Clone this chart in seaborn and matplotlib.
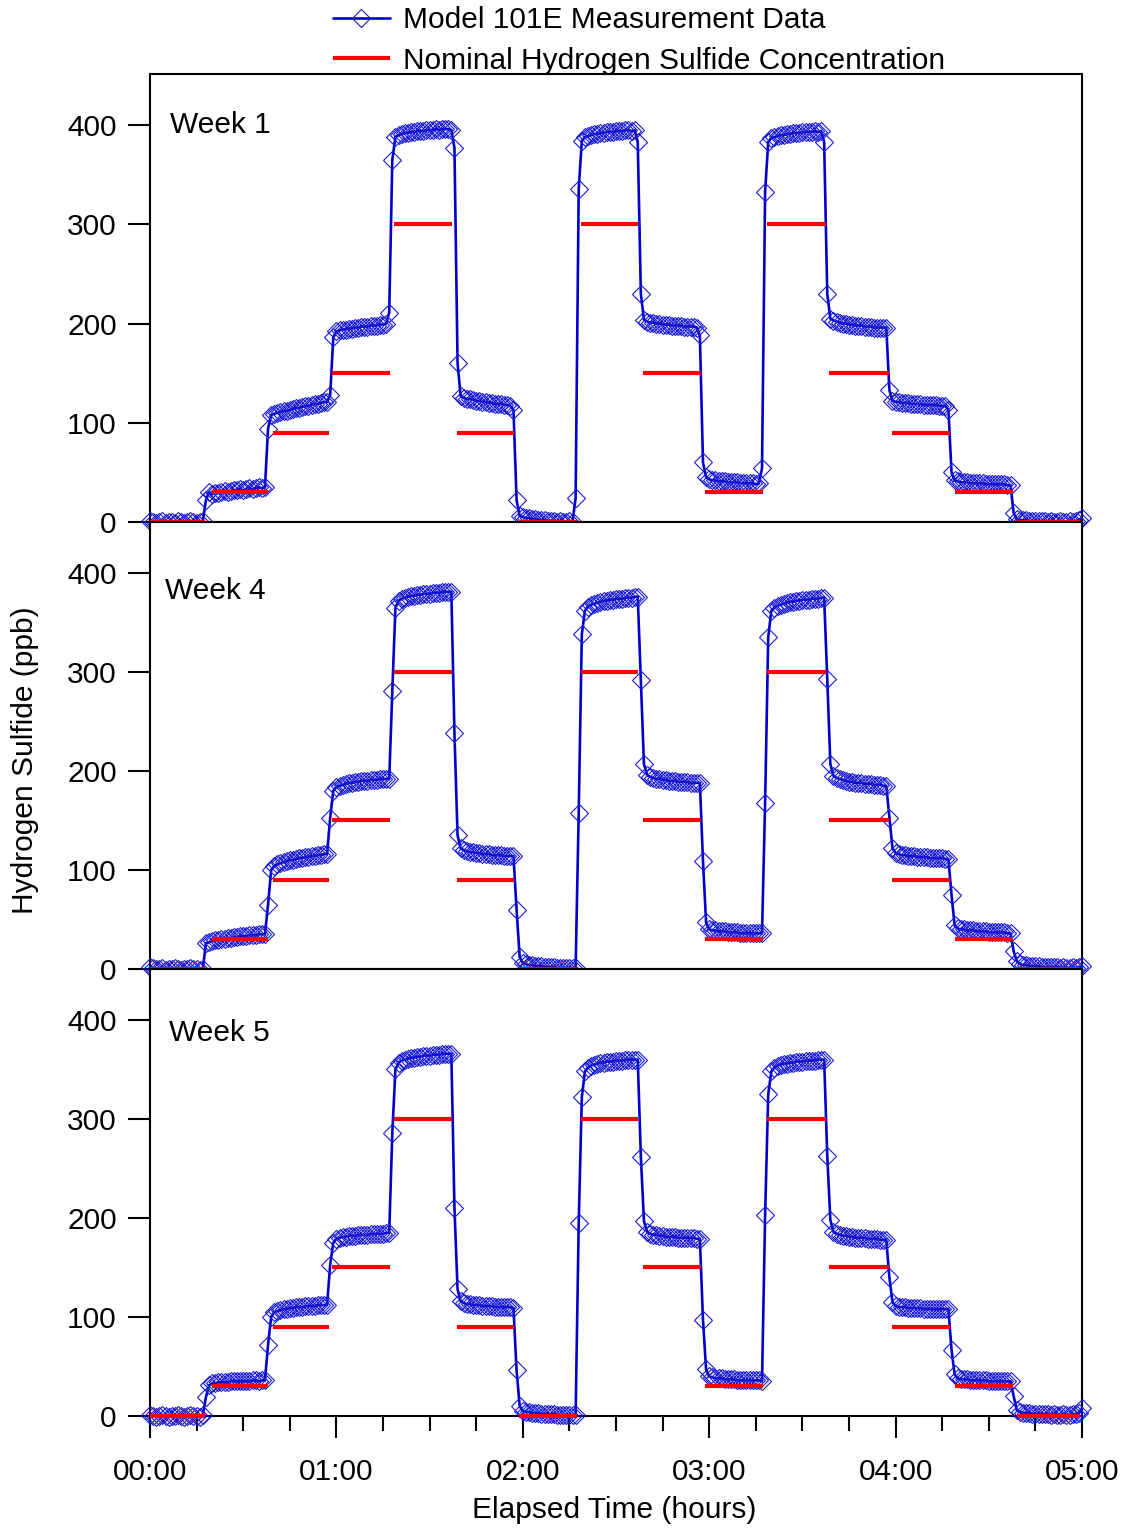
import matplotlib
matplotlib.use("Agg")
import matplotlib.pyplot as plt
from matplotlib.lines import Line2D
from matplotlib.ticker import FixedLocator
import pandas as pd
import seaborn as sns

# ---- data -------------------------------------------------------------
week_names = ["Week 1", "Week 4", "Week 5"]

# nominal H2S steps (ppb) and the time span of each step (minutes)
nominal_ppb = [0, 30, 90, 150, 300, 90, 0, 300, 150, 30, 300, 150, 90, 30, 0]
nominal_start_min = [0, 20, 39.5, 58.7, 78.7, 98.7, 118.7, 138.7, 158.7,
                     178.7, 198.7, 218.7, 238.9, 259, 279.2]
nominal_end_min = [17.7, 38, 57.5, 77.3, 97.3, 117.3, 137.4, 157.2, 177.4,
                   197.3, 217.6, 237.9, 257.5, 277.8, 299.4]

# analyzer readings, one per minute from 0 to 300 min, grouped by step
week1_ppb = [
    [1, 0, -1, 0, 1, -1, 0, 0, -1, 1, 0, -1, 0, 1, 0, -1, 0, 1],
    [22, 30, 28, 29, 29, 30, 31, 30, 31, 32, 32, 33, 32, 33, 34, 33, 34, 35, 34, 35],
    [94, 108, 109, 110, 111, 112, 112, 113, 114, 115, 115, 116, 117, 117, 118, 119, 119, 120, 121, 121],
    [128, 186, 192, 193, 194, 194, 195, 195, 196, 196, 197, 197, 197, 198, 198, 198, 199, 199, 200, 211],
    [365, 388, 390, 391, 392, 392, 393, 393, 394, 394, 394, 395, 395, 395, 396, 395, 396, 396, 396, 395],
    [377, 160, 127, 125, 124, 124, 123, 122, 122, 121, 121, 120, 120, 119, 119, 119, 118, 118, 117, 113],
    [22, 6, 5, 4, 4, 3, 3, 2, 2, 2, 1, 1, 1, 0, 1, 0, 0, 1, 0, 24],
    [336, 384, 388, 389, 390, 391, 391, 392, 392, 393, 393, 393, 394, 394, 394, 395, 395, 394, 395, 383],
    [230, 204, 202, 201, 201, 200, 200, 199, 199, 199, 198, 198, 198, 198, 197, 197, 197, 197, 196, 188],
    [60, 45, 43, 42, 42, 41, 41, 41, 40, 40, 40, 40, 39, 39, 39, 39, 39, 38, 39, 54],
    [333, 383, 387, 388, 389, 390, 390, 391, 391, 392, 392, 392, 393, 393, 393, 393, 394, 393, 394, 383],
    [230, 205, 203, 202, 201, 200, 200, 199, 199, 198, 198, 198, 197, 197, 197, 196, 196, 196, 196, 196],
    [133, 122, 121, 121, 120, 120, 120, 119, 119, 119, 119, 118, 118, 118, 118, 118, 117, 117, 117, 113],
    [50, 42, 41, 40, 40, 40, 39, 39, 39, 39, 39, 38, 38, 38, 38, 38, 38, 38, 37, 37],
    [9, 3, 2, 2, 2, 1, 1, 1, 1, 1, 1, 0, 1, 0, 0, 1, 0, 0, 1, 0, 1, 2, 4],
]
week4_ppb = [
    [2, 1, 0, 0, 1, -1, 0, 0, 1, 0, -1, 0, 0, 1, 0, 0, -1, 0],
    [26, 27, 28, 29, 29, 30, 30, 31, 31, 32, 32, 33, 33, 33, 34, 34, 34, 35, 35, 35],
    [65, 100, 104, 106, 107, 108, 109, 110, 110, 111, 112, 112, 113, 113, 114, 114, 115, 115, 116, 116],
    [153, 180, 184, 185, 186, 187, 188, 188, 189, 189, 190, 190, 190, 191, 191, 191, 192, 192, 192, 192],
    [281, 365, 372, 374, 375, 376, 377, 377, 378, 378, 379, 379, 379, 380, 380, 380, 381, 381, 381, 381],
    [238, 135, 122, 120, 119, 118, 118, 117, 117, 116, 116, 116, 115, 115, 115, 115, 114, 114, 114, 114],
    [60, 12, 6, 5, 4, 4, 3, 3, 3, 2, 2, 2, 2, 1, 1, 1, 1, 1, 1, 1],
    [158, 338, 362, 366, 368, 369, 370, 371, 372, 372, 373, 373, 374, 374, 374, 375, 375, 375, 376, 376],
    [292, 207, 196, 194, 193, 192, 192, 191, 191, 190, 190, 190, 189, 189, 189, 189, 188, 188, 188, 188],
    [109, 47, 40, 39, 39, 38, 38, 38, 37, 37, 37, 37, 36, 36, 36, 36, 36, 36, 36, 36],
    [168, 335, 362, 365, 367, 368, 369, 370, 371, 371, 372, 372, 373, 373, 373, 374, 374, 374, 375, 375],
    [293, 207, 195, 193, 192, 191, 190, 189, 189, 188, 188, 188, 187, 187, 187, 186, 186, 186, 185, 185],
    [153, 122, 117, 116, 115, 115, 114, 114, 114, 113, 113, 113, 113, 112, 112, 112, 112, 112, 111, 111],
    [75, 44, 41, 40, 40, 39, 39, 39, 38, 38, 38, 38, 37, 37, 37, 37, 37, 37, 36, 36],
    [18, 8, 5, 4, 4, 3, 3, 3, 3, 2, 2, 2, 2, 2, 2, 1, 2, 1, 1, 2, 1, 2, 3],
]
week5_ppb = [
    [1, 0, -1, 0, 1, 0, -1, 0, 0, 1, 0, -1, 0, 1, 0, 0, -1, 1],
    [19, 31, 33, 33, 34, 34, 34, 34, 35, 35, 35, 35, 35, 35, 35, 36, 36, 35, 36, 36],
    [72, 100, 105, 106, 107, 108, 108, 109, 109, 110, 110, 110, 111, 111, 111, 111, 112, 112, 112, 112],
    [153, 175, 179, 180, 181, 181, 182, 182, 182, 183, 183, 183, 183, 184, 184, 184, 184, 184, 185, 185],
    [286, 350, 357, 359, 360, 361, 362, 362, 363, 363, 364, 364, 364, 365, 365, 365, 366, 366, 366, 366],
    [210, 128, 116, 114, 113, 113, 112, 112, 112, 111, 111, 111, 111, 110, 110, 110, 110, 110, 110, 109],
    [46, 10, 5, 4, 4, 3, 3, 3, 2, 2, 2, 2, 2, 1, 1, 1, 1, 1, 1, 1],
    [195, 322, 348, 352, 354, 355, 356, 357, 357, 358, 358, 358, 359, 359, 359, 360, 360, 360, 360, 360],
    [262, 197, 186, 184, 183, 183, 182, 182, 181, 181, 181, 181, 180, 180, 180, 180, 180, 180, 179, 179],
    [97, 47, 40, 39, 38, 38, 38, 37, 37, 37, 37, 36, 36, 36, 36, 36, 36, 36, 36, 35],
    [203, 325, 348, 352, 354, 355, 356, 356, 357, 357, 358, 358, 358, 359, 359, 359, 359, 360, 360, 360],
    [263, 198, 186, 184, 183, 182, 182, 181, 181, 180, 180, 180, 180, 179, 179, 179, 179, 178, 178, 178],
    [140, 115, 111, 110, 110, 110, 109, 109, 109, 109, 109, 108, 108, 108, 108, 108, 108, 108, 108, 108],
    [67, 42, 38, 37, 37, 37, 36, 36, 36, 36, 36, 36, 35, 35, 35, 35, 35, 35, 35, 35],
    [20, 6, 4, 3, 3, 3, 2, 2, 2, 2, 2, 2, 1, 2, 1, 1, 2, 1, 1, 2, 2, 3, 8],
]
sample_minutes = list(range(301))

week_label_minute = [6.4, 4.8, 6.1]
week_label_ppb = [400, 382, 387]

time_ticks_hr = [0, 1, 2, 3, 4, 5]
time_tick_labels = ["00:00", "01:00", "02:00", "03:00", "04:00", "05:00"]
ppb_ticks = [0, 100, 200, 300, 400]

# ---- tidy tables --------------------------------------------------------
readings = []
for name, blocks in zip(week_names, [week1_ppb, week4_ppb, week5_ppb]):
    flat = [v for block in blocks for v in block]
    assert len(flat) == len(sample_minutes)
    for m, v in zip(sample_minutes, flat):
        readings.append({"week": name, "hours": m / 60.0, "ppb": v})
readings = pd.DataFrame(readings)

steps = []
for i, (lvl, a, b) in enumerate(zip(nominal_ppb, nominal_start_min, nominal_end_min)):
    steps.append({"step": i, "hours": a / 60.0, "ppb": lvl})
    steps.append({"step": i, "hours": b / 60.0, "ppb": lvl})
steps = pd.DataFrame(steps)

# ---- style --------------------------------------------------------------
sns.set_style("ticks")
plt.rcParams["font.family"] = ["Liberation Sans", "DejaVu Sans"]
plt.rcParams["axes.linewidth"] = 1.5
for key in ["text.color", "axes.labelcolor", "xtick.color", "ytick.color",
            "axes.edgecolor"]:
    plt.rcParams[key] = "black"
FS = 21.5
BLUE = "#0000CD"
EDGE = "#1a1ad6"
RED = "#FF0000"

fig = plt.figure(figsize=(11.26, 15.31), dpi=100)
W, H = 1126.0, 1531.0
left, right = 150 / W, 1082 / W
panel_px = [(74, 522), (522, 969), (969, 1416)]
axes = []
for top, bot in panel_px:
    ax = fig.add_axes([left, 1 - bot / H, right - left, (bot - top) / H])
    axes.append(ax)

for i, (ax, name) in enumerate(zip(axes, week_names)):
    sub = readings[readings["week"] == name]
    sns.lineplot(data=sub, x="hours", y="ppb", ax=ax, estimator=None, sort=False,
                 color=BLUE, linewidth=1.9, marker="D", markersize=9.5,
                 markerfacecolor="none", markeredgecolor=EDGE, markeredgewidth=0.8,
                 clip_on=False, zorder=3, legend=False)
    sns.lineplot(data=steps, x="hours", y="ppb", units="step", ax=ax, estimator=None,
                 sort=False, color=RED, linewidth=3.0, solid_capstyle="butt",
                 clip_on=False, zorder=4, legend=False)

    ax.set_xlim(0, 5)
    ax.set_ylim(0, 451.5)
    ax.set_xlabel("")
    ax.set_ylabel("")
    ax.yaxis.set_major_locator(FixedLocator(ppb_ticks))
    ax.set_yticklabels([str(t) for t in ppb_ticks])
    ax.tick_params(axis="y", direction="out", length=16, width=1.5, pad=8,
                   labelsize=FS, colors="black")
    for s in ax.spines.values():
        s.set_visible(True)
        s.set_linewidth(1.5)
        s.set_color("black")
        s.set_zorder(2)
    ax.text(week_label_minute[i] / 60.0, week_label_ppb[i], name, ha="left",
            va="center", fontsize=FS, color="black")
    if i < 2:
        ax.tick_params(axis="x", which="both", bottom=False, labelbottom=False)
    else:
        ax.set_xticks(time_ticks_hr)
        ax.set_xticklabels(time_tick_labels)
        ax.xaxis.set_minor_locator(FixedLocator([q / 4 for q in range(21)]))
        ax.tick_params(axis="x", which="major", direction="out", length=16,
                       width=1.5, pad=14, labelsize=FS, colors="black")
        ax.tick_params(axis="x", which="minor", direction="out", length=11,
                       width=1.5, colors="black")

fig.text(25 / W, 1 - 760 / H, "Hydrogen Sulfide (ppb)", rotation=90,
         ha="center", va="center", fontsize=FS, color="black")
fig.text(614 / W, 1 - 1510 / H, "Elapsed Time (hours)", ha="center",
         va="center", fontsize=FS, color="black")

handles = [
    Line2D([], [], color=BLUE, linewidth=1.9, marker="D", markersize=9.5,
           markerfacecolor="none", markeredgecolor=EDGE, markeredgewidth=0.8),
    Line2D([], [], color=RED, linewidth=3.0, solid_capstyle="butt"),
]
leg = fig.legend(handles, ["Model 101E Measurement Data",
                           "Nominal Hydrogen Sulfide Concentration"],
                 loc="upper left", bbox_to_anchor=(333 / W, 1 - 6 / H),
                 frameon=False, fontsize=FS, numpoints=1, handlelength=1.9,
                 handletextpad=0.45, labelspacing=0.42, borderpad=0,
                 borderaxespad=0)
for t in leg.get_texts():
    t.set_color("black")

fig.savefig("out.png", dpi=100)
